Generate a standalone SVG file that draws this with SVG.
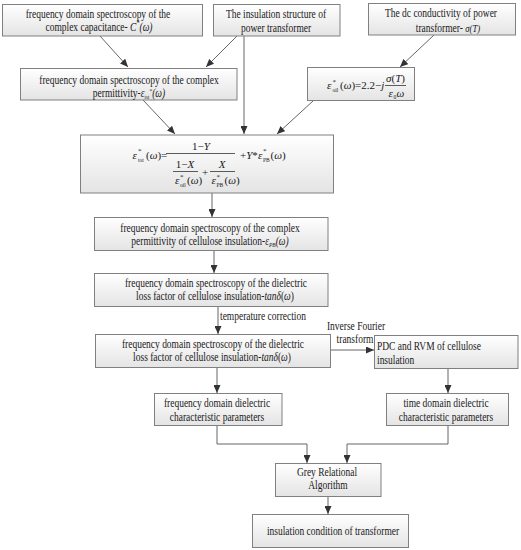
<svg xmlns="http://www.w3.org/2000/svg" width="521" height="550" viewBox="0 0 521 550">
<defs>
<linearGradient id="bg" x1="0" y1="0" x2="0" y2="1">
<stop offset="0" stop-color="#ffffff"/>
<stop offset="1" stop-color="#e4e4e4"/>
</linearGradient>
<marker id="ah" markerUnits="userSpaceOnUse" markerWidth="8" markerHeight="7" refX="8" refY="3.5" orient="auto">
<path d="M0,0 L8,3.5 L0,7 z" fill="#333"/>
</marker>
<style>
.box{fill:url(#bg);stroke:#808080;stroke-width:1}
.t{font-family:"Liberation Serif","Times New Roman",serif;font-size:12px;fill:#1a1a1a;text-anchor:middle}
.tl{font-family:"Liberation Serif","Times New Roman",serif;font-size:12px;fill:#1a1a1a}
.m{font-family:"Liberation Serif","Times New Roman",serif;font-size:11px;font-style:italic;fill:#1a1a1a}
.u{font-style:normal}
.s{font-size:5.5px;font-style:normal}
.sp{font-size:7px;font-style:normal}
.c{fill:none;stroke:#555;stroke-width:0.9;marker-end:url(#ah)}
.bar{stroke:#333;stroke-width:0.8}
</style>
</defs>
<rect width="521" height="550" fill="#ffffff"/>

<g id="connectors">
<line class="c" x1="100" y1="36" x2="128" y2="67"/>
<line class="c" x1="237" y1="36" x2="206" y2="67"/>
<line class="c" x1="244" y1="36" x2="244" y2="134"/>
<line class="c" x1="434" y1="35" x2="400" y2="67"/>
<line class="c" x1="143" y1="100" x2="175" y2="134"/>
<line class="c" x1="313" y1="101" x2="277" y2="134"/>
<line class="c" x1="212" y1="193" x2="212" y2="217"/>
<line class="c" x1="214" y1="250" x2="214" y2="273"/>
<line class="c" x1="218" y1="306" x2="218" y2="334"/>
<line class="c" x1="331" y1="350" x2="374" y2="350"/>
<line class="c" x1="448" y1="368" x2="448" y2="393"/>
<line class="c" x1="217" y1="367" x2="217" y2="393"/>
<polyline class="c" points="217,425 217,444 307,444 307,463"/>
<polyline class="c" points="448,425 448,444 347,444 347,463"/>
<line class="c" x1="328" y1="496" x2="328" y2="514"/>
<text class="tl" transform="translate(220,319.5) scale(0.79,1)">temperature correction</text>
<text class="t" transform="translate(356,329.5) scale(0.79,1)">Inverse Fourier</text>
<text class="t" transform="translate(355,342.5) scale(0.79,1)">transform</text>
</g>

<g id="n1">
<rect class="box" x="2.5" y="4.5" width="200" height="31.5"/>
<text class="t" transform="translate(98,17.5) scale(0.79,1)">frequency domain spectroscopy of the</text>
<text class="t" transform="translate(99,31) scale(0.79,1)">complex capacitance- <tspan font-style="italic">C</tspan><tspan font-size="8" dy="-5">*</tspan><tspan dy="5" font-style="italic">(ω)</tspan></text>
</g>

<g id="n2">
<rect class="box" x="213.5" y="4.5" width="126.5" height="31.5"/>
<text class="t" transform="translate(276,17.5) scale(0.79,1)">The insulation structure of</text>
<text class="t" transform="translate(276,31.5) scale(0.79,1)">power transformer</text>
</g>

<g id="n3">
<rect class="box" x="368.5" y="3.5" width="147" height="31.5"/>
<text class="t" transform="translate(441,17) scale(0.79,1)">The dc conductivity of power</text>
<text class="t" transform="translate(448,31.5) scale(0.79,1)">transformer- <tspan font-style="italic" font-size="11">σ(T)</tspan></text>
</g>

<g id="n4">
<rect class="box" x="20.5" y="68.5" width="216.5" height="31.5"/>
<text class="t" transform="translate(129,84) scale(0.79,1)">frequency domain spectroscopy of the complex</text>
<text class="t" transform="translate(129,97) scale(0.79,1)">permittivity-<tspan font-style="italic">ε</tspan><tspan font-size="6" dy="2">tot</tspan><tspan font-size="7" dy="-6">*</tspan><tspan dy="4" font-style="italic">(ω)</tspan></text>
</g>

<g id="n5">
<rect class="box" x="307.5" y="67.5" width="107" height="33"/>
<text class="m" x="327" y="89">ε</text>
<text class="m sp" x="332.5" y="83.5">*</text>
<text class="m s" x="332.5" y="91.5">oil</text>
<text class="m" x="340" y="89"><tspan class="u">(</tspan>ω<tspan class="u">)=2.2−</tspan>j</text>
<text class="m" x="395.5" y="81.5" text-anchor="middle">σ<tspan class="u">(</tspan>T<tspan class="u">)</tspan></text>
<line class="bar" x1="385" y1="85.5" x2="406" y2="85.5"/>
<text class="m" x="388.5" y="96.5">ε</text>
<text class="m s" x="393.5" y="98.5">0</text>
<text class="m" x="396.5" y="96.5">ω</text>
</g>

<g id="n6">
<rect class="box" x="80.5" y="135" width="253" height="58"/>
<text class="m" x="132.5" y="159">ε</text>
<text class="m sp" x="138" y="153">*</text>
<text class="m s" x="138" y="161.5">tot</text>
<text class="m" x="146" y="159"><tspan class="u">(</tspan>ω<tspan class="u">)=</tspan></text>
<line class="bar" x1="166" y1="153.5" x2="235" y2="153.5"/>
<text class="m" x="201" y="150" text-anchor="middle"><tspan class="u">1−</tspan>Y</text>
<text class="m" x="185" y="168" text-anchor="middle"><tspan class="u">1−</tspan>X</text>
<line class="bar" x1="173" y1="171.5" x2="198" y2="171.5"/>
<text class="m" x="175" y="184" font-size="10">ε</text>
<text class="m sp" x="180" y="178.5">*</text>
<text class="m s" x="180" y="186.5">oil</text>
<text class="m" x="187" y="184" font-size="10"><tspan class="u">(</tspan>ω<tspan class="u">)</tspan></text>
<text class="m" x="205" y="176" text-anchor="middle"><tspan class="u">+</tspan></text>
<text class="m" x="222" y="168" text-anchor="middle">X</text>
<line class="bar" x1="210" y1="171.5" x2="235" y2="171.5"/>
<text class="m" x="211.5" y="184" font-size="10">ε</text>
<text class="m sp" x="216.5" y="178.5">*</text>
<text class="m s" x="216.5" y="186.5">PB</text>
<text class="m" x="224.5" y="184" font-size="10"><tspan class="u">(</tspan>ω<tspan class="u">)</tspan></text>
<text class="m" x="240" y="159"><tspan class="u">+</tspan>Y<tspan class="u">*</tspan></text>
<text class="m" x="258" y="159">ε</text>
<text class="m sp" x="263" y="153">*</text>
<text class="m s" x="263" y="161.5">PB</text>
<text class="m" x="270.5" y="159"><tspan class="u">(</tspan>ω<tspan class="u">)</tspan></text>
</g>

<g id="n7">
<rect class="box" x="94.5" y="217.5" width="233.5" height="33"/>
<text class="t" transform="translate(210,231.5) scale(0.79,1)">frequency domain spectroscopy of the complex</text>
<text class="t" transform="translate(210,244.5) scale(0.79,1)">permittivity of cellulose insulation-<tspan font-style="italic">ε</tspan><tspan font-size="7" dy="2" font-style="italic">PB</tspan><tspan dy="-2" font-style="italic">(ω)</tspan></text>
</g>

<g id="n8">
<rect class="box" x="94.5" y="273.5" width="233.5" height="33"/>
<text class="t" transform="translate(216,287) scale(0.79,1)">frequency domain spectroscopy of the dielectric</text>
<text class="t" transform="translate(215,300) scale(0.79,1)">loss factor of cellulose insulation-<tspan font-style="italic">tanδ</tspan>(<tspan font-style="italic">ω</tspan>)</text>
</g>

<g id="n9">
<rect class="box" x="95.5" y="334.5" width="235" height="33"/>
<text class="t" transform="translate(213,347.5) scale(0.79,1)">frequency domain spectroscopy of the dielectric</text>
<text class="t" transform="translate(212,361) scale(0.79,1)">loss factor of cellulose insulation-<tspan font-style="italic">tanδ</tspan>(<tspan font-style="italic">ω</tspan>)</text>
</g>

<g id="n10">
<rect class="box" x="374.5" y="335.5" width="143.5" height="33"/>
<text class="tl" transform="translate(377,349.5) scale(0.79,1)">PDC and RVM of cellulose</text>
<text class="tl" transform="translate(377,363.5) scale(0.79,1)">insulation</text>
</g>

<g id="n11">
<rect class="box" x="154.5" y="393.5" width="127.5" height="32"/>
<text class="t" transform="translate(217,406.5) scale(0.79,1)">frequency domain dielectric</text>
<text class="t" transform="translate(217,420.5) scale(0.79,1)">characteristic parameters</text>
</g>

<g id="n12">
<rect class="box" x="386.5" y="393.5" width="122" height="32"/>
<text class="t" transform="translate(446,406.5) scale(0.79,1)">time domain dielectric</text>
<text class="t" transform="translate(446,420.5) scale(0.79,1)">characteristic parameters</text>
</g>

<g id="n13">
<rect class="box" x="275.5" y="463.5" width="105.5" height="33"/>
<text class="t" transform="translate(327,475.5) scale(0.79,1)">Grey Relational</text>
<text class="t" transform="translate(328,488.5) scale(0.79,1)">Algorithm</text>
</g>

<g id="n14">
<rect class="box" x="252.5" y="514.5" width="156" height="33"/>
<text class="t" transform="translate(333,534.5) scale(0.79,1)">insulation condition of transformer</text>
</g>
</svg>
